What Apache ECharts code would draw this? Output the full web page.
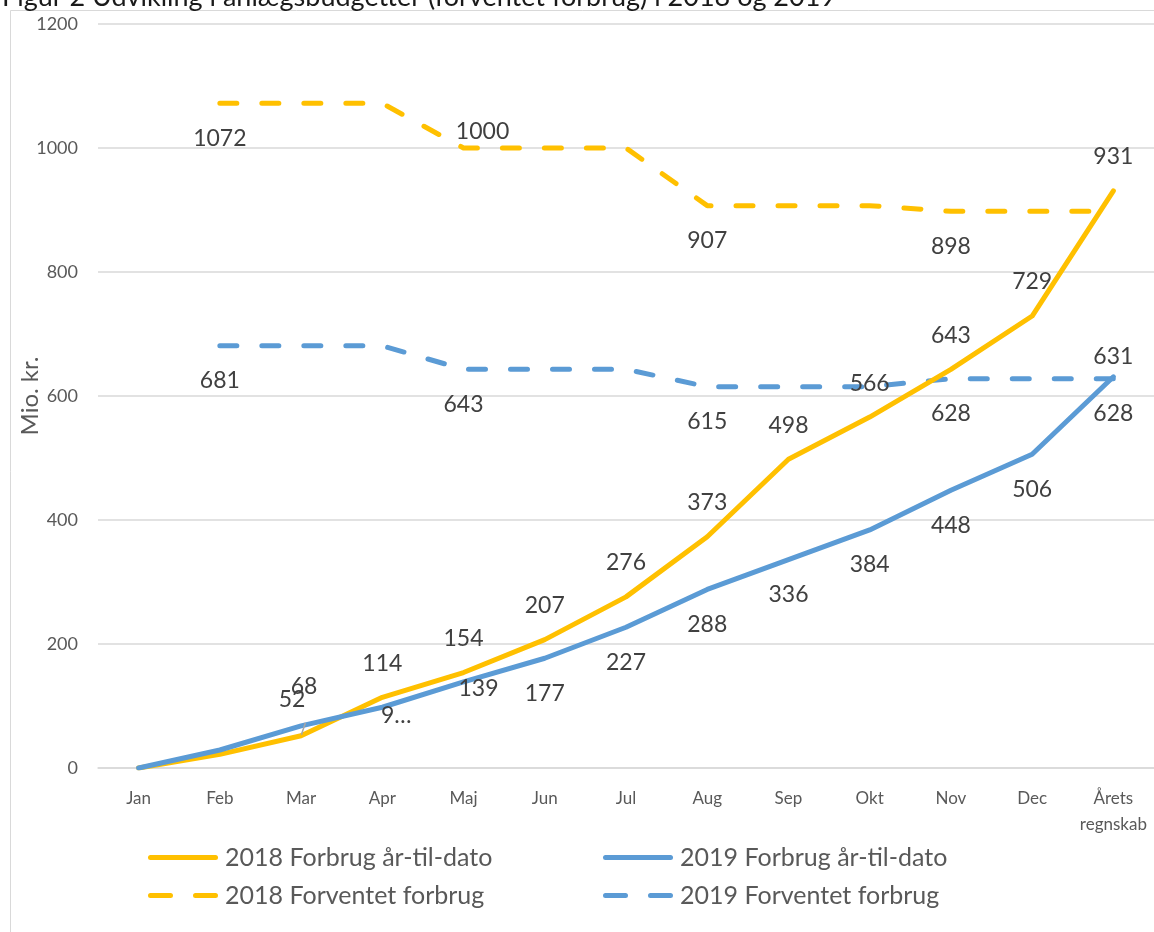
<!DOCTYPE html>
<html>
<head>
<meta charset="utf-8">
<script src="https://cdn.jsdelivr.net/npm/echarts@6/dist/echarts.min.js"></script>
<style>html,body{margin:0;padding:0;background:#fff;}#c{width:1154px;height:932px;}</style>
</head>
<body>
<div id="c"></div>
<script>
// ---- data ----
const categories = ['Jan','Feb','Mar','Apr','Maj','Jun','Jul','Aug','Sep','Okt','Nov','Dec','Årets\nregnskab'];
const forbrug2018 = [0, 22, 52, 114, 154, 207, 276, 373, 498, 566, 643, 729, 931];
const forbrug2019 = [0, 29, 68, 98, 139, 177, 227, 288, 336, 384, 448, 506, 631];
const forventet2018 = [null, 1072, 1072, 1072, 1000, 1000, 1000, 907, 907, 907, 898, 898, 898];
const forventet2019 = [null, 681, 681, 681, 643, 643, 643, 615, 615, 615, 628, 628, 628];
const yTicks = [0, 200, 400, 600, 800, 1000, 1200];
const seriesNames = ['2018 Forbrug år-til-dato','2019 Forbrug år-til-dato','2018 Forventet forbrug','2019 Forventet forbrug'];
const titleText = 'Figur 2 Udvikling i anlægsbudgetter (forventet forbrug) i 2018 og 2019';
const yName = 'Mio. kr.';

// ---- label placement (style, kept separate): [dx, dy] from the point, null = no label ----
const U = [0,-34], D = [0,35];
const lab2018F = [null, null, [-9,-36], U, U, U, U, U, U, U, U, U, U];
const lab2019F = [null, null, [3,-39], [14,8], [15,7], D, D, D, D, D, D, D, [0,-20]];
const lab2018E = [null, D, null, null, [19,-16], null, null, D, null, null, D, null, null];
const lab2019E = [null, D, null, null, D, null, null, D, null, null, D, null, D];
const labText2019F = {3: '9…'};
const leader2018F = {2: true};

const YELLOW = '#FFC000', BLUE = '#5B9BD5', TXT = '#404040', AX = '#595959';
const ICON_SOLID = 'path://M2.5,0 H67.5 A2.5,2.5 0 0 1 67.5,5 H2.5 A2.5,2.5 0 0 1 2.5,0 Z';
const ICON_DASH = 'path://M2.5,0 H22.5 A2.5,2.5 0 0 1 22.5,5 H2.5 A2.5,2.5 0 0 1 2.5,0 Z M47.5,0 H67.5 A2.5,2.5 0 0 1 67.5,5 H47.5 A2.5,2.5 0 0 1 47.5,0 Z';

function build(values, labs, texts, leaders) {
  return values.map((v, i) => {
    const item = { value: v == null ? '-' : v };
    if (labs[i] && v != null) {
      item.label = { show: true, position: 'inside', offset: labs[i] };
      if (texts && texts[i] != null) item.label.formatter = texts[i];
      if (leaders && leaders[i]) item.labelLine = { show: true, lineStyle: { color: '#a6a6a6', width: 1.5 } };
    }
    return item;
  });
}

function lineSeries(name, values, labs, color, dashed, texts, leaders) {
  return {
    name: name, type: 'line', data: build(values, labs, texts, leaders),
    symbol: 'circle', symbolSize: 2, showSymbol: true,
    itemStyle: { color: 'rgba(0,0,0,0)', borderWidth: 0 },
    lineStyle: { color: color, width: 5, type: dashed ? [17, 25] : 'solid', cap: 'round', join: 'round' },
    label: { show: false, color: TXT, fontFamily: 'Lato', fontSize: 23 },
    emphasis: { disabled: true }, animation: false, connectNulls: false,
    z: dashed ? 2 : 3
  };
}

function legendItem(name, color, dashed) {
  return { name: name, icon: dashed ? ICON_DASH : ICON_SOLID, itemStyle: { color: color, borderWidth: 0 } };
}

const legendCommon = { orient: 'vertical', top: 845, padding: 0, itemWidth: 70, itemHeight: 5, itemGap: 13,
  textStyle: { color: AX, fontFamily: 'Lato', fontSize: 25, padding: [0, 0, 0, 2] }, selectedMode: false };

const chart = echarts.init(document.getElementById('c'));
chart.setOption({
  backgroundColor: '#fff',
  animation: false,
  color: [YELLOW, BLUE, YELLOW, BLUE],
  graphic: [
    { type: 'rect', shape: { x: 10.5, y: 10.5, width: 1200, height: 1000 }, style: { fill: 'none', stroke: '#d9d9d9', lineWidth: 1 }, z: -1 },
    { type: 'text', left: 2, top: -16, style: { text: titleText, font: '27px Lato', fill: '#1a1a1a' } }
  ],
  grid: { left: 98, right: 0, top: 24, bottom: 164, containLabel: false, outerBoundsMode: 'none' },
  xAxis: {
    type: 'category', data: categories, boundaryGap: true,
    axisLine: { show: true, lineStyle: { color: '#d9d9d9', width: 1.5 } },
    axisTick: { show: false },
    axisLabel: { color: AX, fontFamily: 'Lato', fontSize: 17, margin: 18, lineHeight: 26, interval: 0 }
  },
  yAxis: {
    type: 'value', min: 0, max: 1200, interval: 200,
    name: yName, nameLocation: 'middle', nameGap: 56, nameRotate: 90, nameMoveOverlap: false,
    nameTextStyle: { color: AX, fontFamily: 'Lato', fontSize: 24 },
    axisLine: { show: false }, axisTick: { show: false },
    axisLabel: { color: AX, fontFamily: 'Lato', fontSize: 18, margin: 20,
      formatter: v => yTicks.includes(v) ? String(v) : '' },
    splitLine: { lineStyle: { color: '#d9d9d9', width: 1.5 } }
  },
  legend: [
    Object.assign({ left: 148, data: [legendItem(seriesNames[0], YELLOW, false), legendItem(seriesNames[2], YELLOW, true)] }, legendCommon),
    Object.assign({ left: 603, data: [legendItem(seriesNames[1], BLUE, false), legendItem(seriesNames[3], BLUE, true)] }, legendCommon)
  ],
  series: [
    lineSeries(seriesNames[0], forbrug2018, lab2018F, YELLOW, false, null, leader2018F),
    lineSeries(seriesNames[1], forbrug2019, lab2019F, BLUE, false, labText2019F),
    lineSeries(seriesNames[2], forventet2018, lab2018E, YELLOW, true),
    lineSeries(seriesNames[3], forventet2019, lab2019E, BLUE, true)
  ]
});
</script>
</body>
</html>
